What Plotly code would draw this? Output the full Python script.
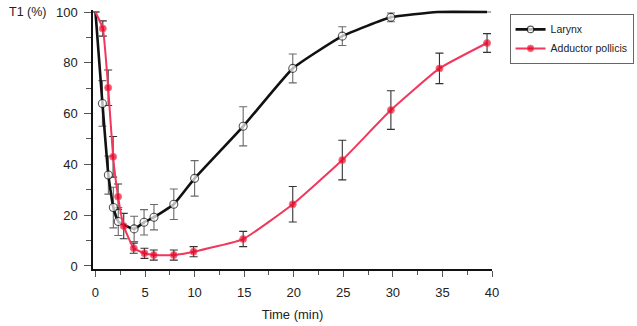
import plotly.graph_objects as go

# Larynx (open circles)
lar_t = [0, 0.7, 1.3, 1.8, 2.3, 3.9, 4.9, 5.9, 7.9, 10, 14.9, 19.9, 24.9, 29.8, 34.5, 39.5]
lar_v = [100, 64, 35.8, 23, 17.5, 14.6, 17.2, 19.2, 24.3, 34.5, 55, 77.8, 90.5, 97.9, 100, 100]
lar_e = [0, 9, 7.5, 8, 5.5, 5, 5, 5, 6, 7, 7.7, 5.7, 3.7, 1.7, 0, 0]
lar_show = [0, 1, 1, 1, 1, 1, 1, 1, 1, 1, 1, 1, 1, 1, 0, 0]

# Adductor pollicis (filled red)
add_t = [0, 0.74, 1.28, 1.78, 2.28, 2.85, 3.86, 4.94, 5.88, 7.9, 9.9, 14.9, 19.9, 24.9, 29.8, 34.7, 39.5]
add_v = [100, 93.5, 70.2, 43, 27.3, 15.7, 7, 5, 4.3, 4.3, 5.6, 10.6, 24.3, 41.7, 61.4, 77.8, 87.8]
add_e = [0, 3, 7, 8, 5, 5, 2, 2, 2, 2, 2, 3, 7, 7.8, 7.6, 6, 3.7]
add_show = [0] + [1] * 16

x_ticks = [0, 5, 10, 15, 20, 25, 30, 35, 40]
y_ticks = [0, 20, 40, 60, 80, 100]

FONT = "Liberation Sans, Arial, sans-serif"
TXT = "#222222"

fig = go.Figure()

# error bars first (underneath lines and markers)
fig.add_trace(go.Scatter(
    x=lar_t, y=lar_v, mode="markers", showlegend=False, hoverinfo="skip",
    marker=dict(size=0.1, color="rgba(0,0,0,0)"),
    error_y=dict(type="data", array=lar_e, visible=True, color="#6a6a6a",
                 thickness=1.1, width=4),
    cliponaxis=False,
))
fig.add_trace(go.Scatter(
    x=add_t, y=add_v, mode="markers", showlegend=False, hoverinfo="skip",
    marker=dict(size=0.1, color="rgba(0,0,0,0)"),
    error_y=dict(type="data", array=add_e, visible=True, color="#333333",
                 thickness=1.1, width=4),
    cliponaxis=False,
))

fig.add_trace(go.Scatter(
    x=lar_t, y=lar_v, mode="lines+markers", name="Larynx",
    line=dict(color="#111111", width=2.6, shape="spline", smoothing=0.4),
    marker=dict(symbol="circle", size=[8 * s for s in lar_show], color="#ffffff",
                line=dict(color="#111111", width=1.1)),
    cliponaxis=False,
))

fig.add_trace(go.Scatter(
    x=add_t, y=add_v, mode="lines+markers", name="Adductor pollicis",
    line=dict(color="#f2375c", width=2, shape="spline", smoothing=0.4),
    marker=dict(symbol="circle", size=[7 * s for s in add_show], color="#e8001c"),
    cliponaxis=False,
))

fig.update_layout(
    width=637, height=326,
    margin=dict(l=93, r=145, t=10, b=57, autoexpand=False),
    paper_bgcolor="white", plot_bgcolor="white",
    font=dict(family=FONT, size=13, color=TXT),
    showlegend=True,
    legend=dict(x=1.044, y=0.985, xanchor="left", yanchor="top",
                bordercolor="#666666", borderwidth=1, bgcolor="white",
                font=dict(family=FONT, size=10.5, color=TXT),
                itemwidth=30, tracegroupgap=0),
)
fig.add_annotation(text="T1 (%)", xref="paper", yref="paper",
                   x=(7 - 93) / (492.3 - 93), y=(269 - 12) / 259,
                   xanchor="left", yanchor="middle", showarrow=False,
                   font=dict(family=FONT, size=12.5, color=TXT))

fig.update_xaxes(
    range=[-0.25, 40], tickvals=x_ticks, ticktext=[str(v) for v in x_ticks],
    showline=True, linecolor="#111111", linewidth=1.5,
    ticks="outside", ticklen=6, tickcolor="#555555", tickwidth=1,
    minor=dict(dtick=2.5, tick0=0, ticks="outside", ticklen=4, tickcolor="#555555"),
    showgrid=False, zeroline=False, automargin=False,
    ticklabelstandoff=5,
    title=dict(text="Time (min)", font=dict(family=FONT, size=13), standoff=11),
    tickfont=dict(family=FONT, size=13),
)
fig.update_yaxes(
    range=[-1.2, 100.8], tickvals=y_ticks, ticktext=[str(v) for v in y_ticks],
    showline=True, linecolor="#111111", linewidth=1.5,
    ticks="outside", ticklen=7, tickcolor="#555555", tickwidth=1,
    minor=dict(dtick=10, tick0=0, ticks="outside", ticklen=5, tickcolor="#555555"),
    showgrid=False, zeroline=False, automargin=False,
    ticklabelstandoff=4,
    tickfont=dict(family=FONT, size=13),
)

fig.write_html("out.html")
